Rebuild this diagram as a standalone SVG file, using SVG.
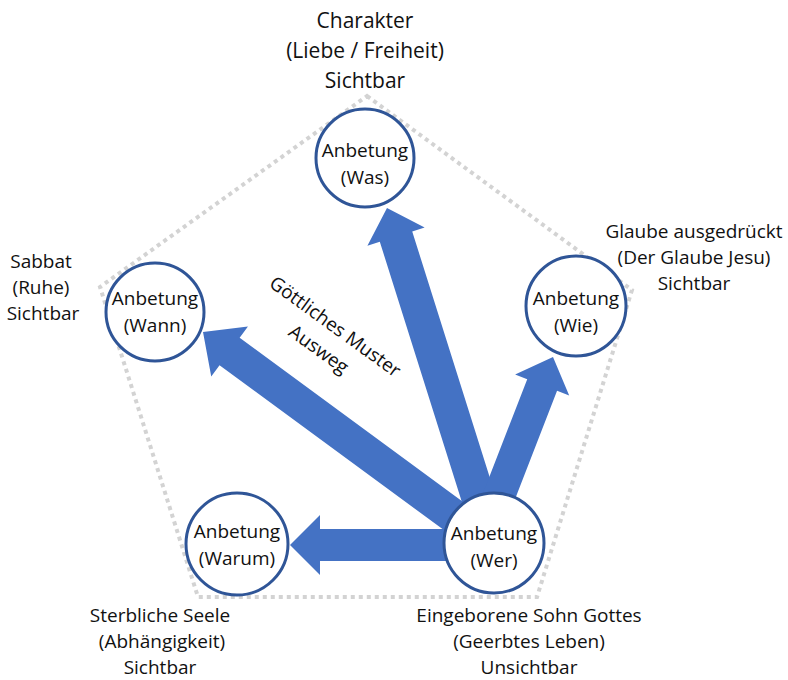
<svg xmlns="http://www.w3.org/2000/svg" width="788" height="680" viewBox="0 0 788 680">
<style>
.bg{fill:#ffffff}
.pent{fill:none;stroke:#d3d3d3;stroke-width:4;stroke-dasharray:4 4}
.arrow{fill:#4472c4;stroke:none}
.node circle{fill:#ffffff;stroke:#2f5597;stroke-width:3}
.t{font-family:"Open Sans","Noto Sans","Liberation Sans",sans-serif;fill:#111111;text-anchor:middle}
.ct{font-size:19px}
.lt{font-size:19px}
.tt{font-size:21px}
</style>
<rect class="bg" x="0" y="0" width="788" height="680"/>
<polygon id="pentagon" class="pent" points="367,96 632,290 537,597 198,597 100,287"/>
<g id="connectors">
  <polygon class="arrow" transform="translate(290,545) rotate(180)" points="-204,-16 -30,-16 -30,-30 0,0 -30,30 -30,16 -204,16"/>
  <polygon class="arrow" transform="translate(203,332) rotate(-143.7)" points="-360,-17 -33,-17 -33,-31 0,0 -33,31 -33,17 -360,17"/>
  <polygon class="arrow" transform="translate(387,208) rotate(-107.5)" points="-353,-17 -30,-17 -30,-30 0,0 -30,30 -30,17 -353,17"/>
  <polygon class="arrow" transform="translate(553,357) rotate(-68.8)" points="-202,-16 -30,-16 -30,-29 0,0 -30,29 -30,16 -202,16"/>
</g>
<g id="node-was" class="node">
  <circle cx="365" cy="158" r="49"/>
  <text class="t ct" x="365" y="157">Anbetung</text>
  <text class="t ct" x="365" y="184">(Was)</text>
</g>
<g id="node-wann" class="node">
  <circle cx="155" cy="312" r="49"/>
  <text class="t ct" x="155" y="305">Anbetung</text>
  <text class="t ct" x="155" y="332">(Wann)</text>
</g>
<g id="node-wie" class="node">
  <circle cx="576" cy="306" r="50"/>
  <text class="t ct" x="576" y="305">Anbetung</text>
  <text class="t ct" x="576" y="332">(Wie)</text>
</g>
<g id="node-warum" class="node">
  <circle cx="237" cy="544" r="51"/>
  <text class="t ct" x="237" y="538">Anbetung</text>
  <text class="t ct" x="237" y="565">(Warum)</text>
</g>
<g id="node-wer" class="node">
  <circle cx="494" cy="543" r="50"/>
  <text class="t ct" x="494" y="540">Anbetung</text>
  <text class="t ct" x="494" y="567">(Wer)</text>
</g>
<g id="label-center" transform="translate(335,327) rotate(36)">
  <text class="t lt" x="0" y="6">Göttliches Muster</text>
  <text class="t lt" x="0" y="34">Ausweg</text>
</g>
<g id="label-top">
  <text class="t tt" x="365" y="28">Charakter</text>
  <text class="t tt" x="365" y="58">(Liebe / Freiheit)</text>
  <text class="t tt" x="365" y="88">Sichtbar</text>
</g>
<g id="label-left">
  <text class="t lt" x="41" y="268">Sabbat</text>
  <text class="t lt" x="41" y="294">(Ruhe)</text>
  <text class="t lt" x="43" y="320">Sichtbar</text>
</g>
<g id="label-right">
  <text class="t lt" x="694" y="238">Glaube ausgedrückt</text>
  <text class="t lt" x="694" y="264">(Der Glaube Jesu)</text>
  <text class="t lt" x="694" y="290">Sichtbar</text>
</g>
<g id="label-bottom-left">
  <text class="t lt" x="160" y="622">Sterbliche Seele</text>
  <text class="t lt" x="162" y="648">(Abhängigkeit)</text>
  <text class="t lt" x="160" y="674">Sichtbar</text>
</g>
<g id="label-bottom-right">
  <text class="t lt" x="529" y="622">Eingeborene Sohn Gottes</text>
  <text class="t lt" x="529" y="648">(Geerbtes Leben)</text>
  <text class="t lt" x="529" y="674">Unsichtbar</text>
</g>
</svg>
